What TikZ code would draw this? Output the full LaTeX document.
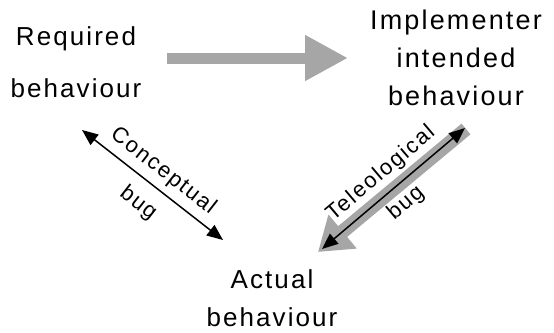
\documentclass[tikz,border=0pt]{standalone}
\usepackage{fontspec}
\setmainfont{Liberation Sans}[LetterSpace=8]
\usetikzlibrary{arrows.meta,calc}
\definecolor{arrowgray}{RGB}{166,166,166}

\begin{document}
\begin{tikzpicture}[x=1pt,y=-1pt,
    behav/.style={align=center,font={\fontsize{26}{38}\selectfont}},
    buglabel/.style={font={\fontsize{22}{26}\selectfont},midway,sloped},
    bugarrow/.style={line width=1.5pt,{Triangle[length=16pt,width=13pt]}-{Triangle[length=16pt,width=13pt]}}]
    \useasboundingbox (0,0) rectangle (554,332);
    \node[behav,font={\fontsize{26}{52}\selectfont}] (req) at (76,62) {Required\\behaviour};
    \node[behav,font={\fontsize{27}{38}\selectfont}] (impl) at (456,58) {Implementer\\intended\\behaviour};
    \node[behav] (act) at (272,298) {Actual\\behaviour};
    % refinement
    \draw[arrowgray, line width=11pt, -{Triangle[length=43pt,width=43pt]}]
      ($(req)+(91,-4)$) -- ($(impl)+(-108,0)$);
    \draw[arrowgray, line width=14pt, -{Triangle[length=32pt,width=42pt]}]
      ($(impl)+(10,71)$) -- ($(act)+(46,-46)$);
    % bugs
    \draw[bugarrow] ($(req)+(6,68)$) -- ($(act)+(-49,-58)$)
      node[buglabel,above=3pt] {Conceptual}
      node[buglabel,below=9pt] {bug};
    \draw[bugarrow] ($(act)+(50,-49)$) -- ($(impl)+(9,70)$)
      node[buglabel,above=5pt] {Teleological}
      node[buglabel,below=5pt] {bug};
\end{tikzpicture}
\end{document}
